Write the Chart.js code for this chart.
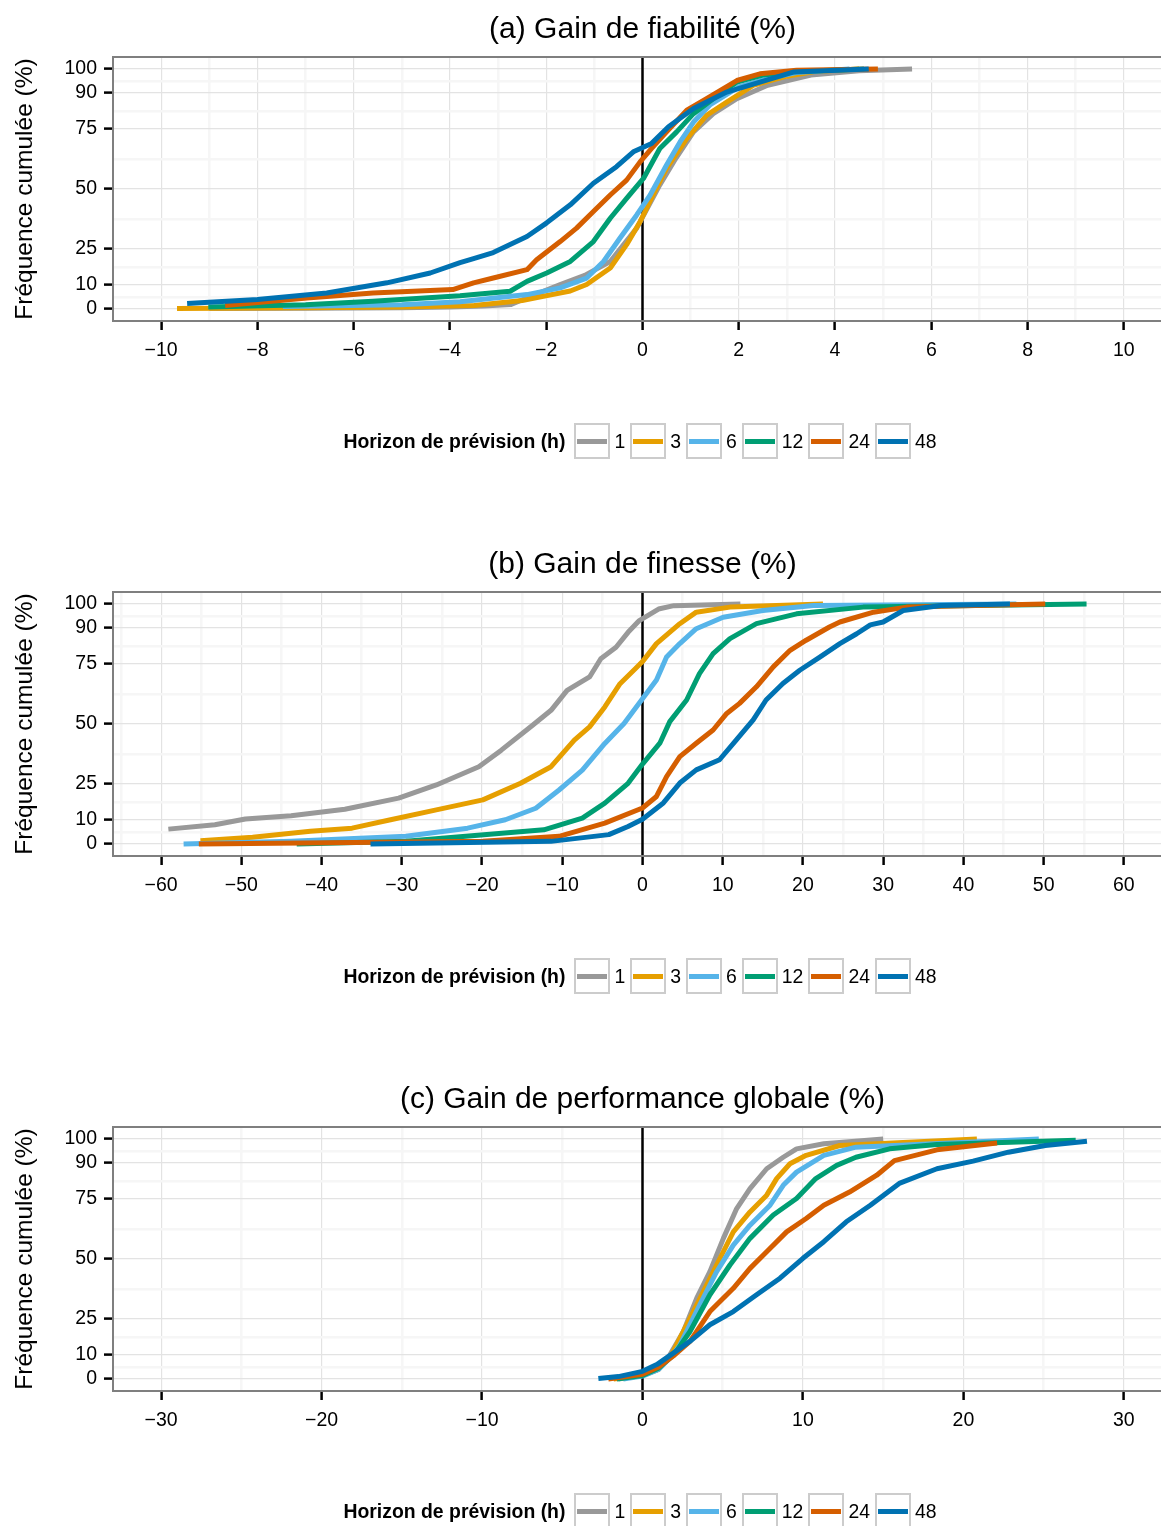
<!DOCTYPE html>
<html>
<head>
<meta charset="utf-8">
<script src="https://cdn.jsdelivr.net/npm/chart.js@4.4.1/dist/chart.umd.min.js"></script>
<style>
  body { margin: 0; overflow: hidden; background: #fff; font-family: "Liberation Sans", Arial, Helvetica, sans-serif; }
  .panel { position: absolute; left: 0; width: 1180px; height: 535px; }
  .panel canvas { position: absolute; left: 0; top: 0; }
  .legend { position: absolute; left: 113px; width: 1059px; top: 423px; height: 36px;
            display: flex; justify-content: center; align-items: center; font-size: 19.4px; color: #000; }
  .legend .ttl { font-weight: bold; margin-right: 9px; }
  .legend .key { width: 36px; height: 36px; box-sizing: border-box; border: 2px solid #cccccc;
                 display: flex; align-items: center; padding: 0 1px; }
  .legend .key span { display: block; width: 100%; height: 5px; }
  .legend .lab { margin: 0 5px 0 4px; }
</style>
</head>
<body>
<div class="panel" style="top:0"><canvas id="chartA" width="1180" height="535"></canvas><div class="legend" id="legA"></div></div>
<div class="panel" style="top:535px"><canvas id="chartB" width="1180" height="535"></canvas><div class="legend" id="legB"></div></div>
<div class="panel" style="top:1070px"><canvas id="chartC" width="1180" height="535"></canvas><div class="legend" id="legC"></div></div>

<script>
// horizons and colours
const horizons = ['1', '3', '6', '12', '24', '48'];
const lineColors = ['#999999', '#E69F00', '#56B4E9', '#009E73', '#D55E00', '#0072B2'];

// tick labels
const yTicks = [0, 10, 25, 50, 75, 90, 100];
const xTicksA = [-10, -8, -6, -4, -2, 0, 2, 4, 6, 8, 10];
const xTicksB = [-60, -50, -40, -30, -20, -10, 0, 10, 20, 30, 40, 50, 60];
const xTicksC = [-30, -20, -10, 0, 10, 20, 30];

// (a) gain de fiabilite : [x, cumulative %]
const fiab1 = [[-9.0,0.2],[-7,0.3],[-5,0.5],[-4,0.8],[-3.3,1.3],[-2.73,1.9],[-2.41,4.6],[-1.71,10.2],[-1.2,14],[-0.67,19.8],[-0.12,33.7],[0.36,51.7],[0.7,63],[1.06,73.8],[1.47,81.4],[1.96,87.6],[2.6,93.2],[3.5,97.5],[4.5,99.3],[5.6,100]];
const fiab3 = [[-9.67,0.2],[-7,0.5],[-5,0.8],[-3.5,1.5],[-2.5,3.5],[-2.06,5.3],[-1.5,7.5],[-1.16,10.2],[-0.67,17.1],[-0.33,26.8],[-0.05,36.4],[0.22,47.5],[0.5,58.6],[0.92,71],[1.33,80.7],[1.75,86.2],[2.3,93.2],[3.0,97],[3.6,99],[4.5,100]];
const fiab6 = [[-7.47,1.0],[-5,1.8],[-3.79,3.0],[-2.4,6.0],[-1.71,8.8],[-1.16,12.9],[-0.81,19.8],[-0.47,29.5],[-0.12,39.2],[0.16,47.5],[0.5,60],[0.78,69.6],[1.06,77.9],[1.4,85],[2.0,92.5],[2.6,96],[3.2,98.5],[4.3,100]];
const fiab12 = [[-9.02,0.8],[-7,1.8],[-5.6,3.2],[-3.79,5.5],[-2.75,7.4],[-2.4,11.5],[-1.99,15],[-1.5,19.8],[-1.02,28.1],[-0.67,37.8],[-0.33,46.1],[0.02,54.4],[0.36,66.9],[0.71,73.8],[1.06,81.4],[1.47,87.6],[1.96,94.5],[2.5,97.5],[3.2,99],[4.6,100]];
const fiab24 = [[-8.67,1.5],[-6.97,4.6],[-5.6,6.7],[-3.94,8.1],[-3.51,10.9],[-3.1,12.9],[-2.4,16.4],[-2.2,20.5],[-1.71,28.1],[-1.37,33.7],[-1.02,40.6],[-0.67,47.5],[-0.33,53.7],[-0.05,61.3],[0.19,66.9],[0.5,73.8],[0.92,82.8],[1.33,87.6],[1.96,95.2],[2.44,98],[3.2,99.5],[4.89,100]];
const fiab48 = [[-9.46,2.3],[-8,4],[-6.56,6.7],[-5.31,10.9],[-4.41,15],[-3.79,19.3],[-3.51,21],[-3.1,23.5],[-2.4,30.2],[-1.99,35.9],[-1.5,43.4],[-1.02,52.4],[-0.54,59.3],[-0.19,65.5],[0.19,69],[0.54,75.9],[1.06,83.5],[1.75,90.4],[2.44,94.5],[3.13,98.7],[4.7,100]];

// (b) gain de finesse
const fin1 = [[-59.1,6.2],[-53.3,8.0],[-49.5,10.4],[-43.8,11.8],[-37.1,14.5],[-30.4,19.1],[-25.7,24.6],[-20.4,32.2],[-17.6,39.1],[-13.7,49.5],[-11.4,55.7],[-9.4,64.0],[-6.6,69.6],[-5.2,77.2],[-3.3,82.0],[-1.8,88.2],[-0.4,93.1],[2.0,97.9],[3.9,99.3],[12.2,100]];
const fin3 = [[-55.1,1.4],[-48.6,2.8],[-41.4,5.3],[-36.2,6.6],[-31.4,10.1],[-25.7,14.2],[-19.9,18.4],[-15.2,25.3],[-11.4,32.2],[-8.5,43.3],[-6.6,48.8],[-4.7,57.1],[-2.8,66.8],[-0.9,73],[0,76],[1.74,83.5],[4.65,91.8],[6.7,96.6],[10.9,98.7],[22.5,100]];
const fin6 = [[-57.2,0],[-43.8,1.1],[-29.5,3.2],[-21.8,6.6],[-17.1,10.1],[-13.3,14.9],[-10.4,22.5],[-7.5,30.8],[-4.7,41.9],[-2.3,50.2],[0,60.5],[1.74,68.3],[3.0,77.9],[4.65,83.5],[6.7,89.7],[10.05,94.5],[15,97.3],[21.3,99.4],[46.6,100]];
const fin12 = [[-43.1,0],[-29.5,1.1],[-12.3,5.9],[-7.5,10.8],[-4.7,17],[-1.8,25.3],[0,33.3],[2.16,42],[3.4,51],[5.5,60],[7.1,71],[8.8,79.3],[10.9,85.6],[14.2,91.8],[19.2,95.9],[27.5,98.7],[55.35,100]];
const fin24 = [[-55.3,0],[-19.9,1.1],[-10.4,3.2],[-4.7,8.7],[0,15],[1.74,19.8],[3,28.1],[4.65,36.4],[6.7,42],[8.8,47.5],[10.5,54.4],[12.1,58.6],[14.2,65.5],[16.3,73.8],[18.4,80.7],[20.4,84.9],[23.3,90.4],[24.6,92.5],[28.8,96.6],[32.9,98.7],[50.2,100]];
const fin48 = [[-33.9,0],[-11.4,1.1],[-4.2,3.9],[-1.8,7.3],[0,10.3],[2.6,17.1],[4.65,25.4],[6.7,30.9],[9.6,35.1],[11.7,43.4],[13.8,51.7],[15.4,60],[17.5,66.9],[19.6,72.4],[22.1,77.9],[24.6,83.5],[26.7,87.6],[28.4,91.3],[30,92.5],[32.5,97.3],[37.2,99.4],[45.8,100]];

// (c) gain de performance globale
const glob1 = [[-1.5,0],[0,1.5],[0.93,3.9],[1.72,10.2],[2.55,19.8],[3.38,33.7],[4.2,44.7],[5.04,58.6],[5.87,71],[6.7,79.3],[7.74,87.6],[8.77,92.4],[9.6,95.9],[11.3,98],[15.0,100]];
const glob3 = [[-1.8,0],[0,1.5],[1.0,4],[1.8,10],[2.34,17.1],[3.38,30.9],[4.62,47.5],[5.66,61.3],[6.7,69.6],[7.74,76.6],[8.36,83.5],[9.19,89.7],[10.2,93.2],[12.3,97.3],[20.84,100]];
const glob6 = [[-1.2,0],[0,1.2],[1.0,4],[1.9,10],[2.34,14.3],[3.5,30],[4.62,44.7],[5.66,55.8],[6.7,64.1],[7.95,72.4],[8.77,80.7],[9.6,86.2],[11.3,93.2],[13.3,96.6],[24.7,100]];
const glob12 = [[-1.6,0],[0,1.5],[1.0,4.5],[2.0,10.5],[2.96,19.8],[4.2,35.1],[5.45,47.5],[6.7,58.6],[8.15,68.3],[9.6,75.2],[10.8,83.5],[12.1,89],[13.3,92.4],[15.4,95.9],[18.35,97.7],[27.0,99.5]];
const glob24 = [[-2.13,0],[0,2],[1.0,5],[2.0,10],[2.96,15.7],[4.2,28.1],[5.66,37.8],[6.7,46.1],[7.74,53],[8.98,61.3],[10.2,66.9],[11.3,72.4],[12.9,77.9],[14.6,84.9],[15.7,91],[18.35,95.5],[22.1,98.3]];
const glob48 = [[-2.75,0.2],[-1.5,1],[0,3.2],[0.89,6],[1.92,10.8],[2.96,15.7],[4.2,22.6],[5.66,28.1],[7.11,35.1],[8.57,42],[10,50.3],[11.3,57.2],[12.7,65.5],[14.2,72.4],[16.0,81.5],[18.35,87.6],[20.6,90.8],[22.8,94.5],[25.1,97.3],[27.7,99.1]];

Chart.defaults.font.family = '"Liberation Sans", Arial, Helvetica, sans-serif';
Chart.defaults.color = '#000';

// grey border round the panel, like ggplot theme_bw
const panelBorder = {
  id: 'panelBorder',
  afterDatasetsDraw(chart) {
    const { ctx, chartArea: a } = chart;
    ctx.save();
    ctx.strokeStyle = '#7f7f7f';
    ctx.lineWidth = 2;
    ctx.strokeRect(a.left, a.top, a.right - a.left, a.bottom - a.top);
    ctx.restore();
  }
};

function midpoints(ticks) {
  const out = [];
  for (let i = 0; i < ticks.length - 1; i++) out.push((ticks[i] + ticks[i + 1]) / 2);
  return out;
}

function fmt(v) {
  return v < 0 ? '\u2212' + Math.abs(v) : String(v);
}

function buildLegend(id) {
  const el = document.getElementById(id);
  let html = '<span class="ttl">Horizon de prévision (h)</span>';
  horizons.forEach((h, i) => {
    html += '<div class="key"><span style="background:' + lineColors[i] + '"></span></div><span class="lab">' + h + '</span>';
  });
  el.innerHTML = html;
}

function buildPanel(canvasId, legendId, titleText, xTicks, xLimit, series) {
  const step = xTicks[1] - xTicks[0];
  let xMinor = midpoints(xTicks);
  const lo = xTicks[0] - step / 2, hi = xTicks[xTicks.length - 1] + step / 2;
  if (lo > -xLimit) xMinor.unshift(lo);
  if (hi < xLimit) xMinor.push(hi);
  const yMinor = midpoints(yTicks);
  const xAll = xMinor.concat(xTicks).sort((a, b) => a - b);
  const yAll = yMinor.concat(yTicks).sort((a, b) => a - b);

  const datasets = series.map((pts, i) => ({
    label: horizons[i],
    data: pts.map(p => ({ x: p[0], y: p[1] })),
    borderColor: lineColors[i],
    borderWidth: 5,
    borderCapStyle: 'butt',
    borderJoinStyle: 'round',
    pointRadius: 0,
    tension: 0,
    fill: false,
    order: series.length - i
  }));
  // vertical reference line at zero
  datasets.push({
    label: 'zero',
    data: [{ x: 0, y: -5 }, { x: 0, y: 105 }],
    borderColor: '#000',
    borderWidth: 2.5,
    pointRadius: 0,
    fill: false,
    order: 20
  });

  new Chart(document.getElementById(canvasId), {
    type: 'line',
    data: { datasets },
    options: {
      responsive: false,
      animation: false,
      layout: { padding: { left: 0, right: 8, top: 0, bottom: 154 } },
      plugins: {
        legend: { display: false },
        tooltip: { enabled: false },
        title: {
          display: true,
          text: titleText,
          fullSize: false,
          color: '#000',
          font: { size: 30, weight: 'normal' },
          padding: { top: 12, bottom: 9 }
        }
      },
      scales: {
        x: {
          type: 'linear',
          min: -xLimit,
          max: xLimit,
          afterBuildTicks: s => { s.ticks = xAll.map(v => ({ value: v })); },
          afterFit: s => { s.height = 60; },
          border: { display: false },
          grid: {
            color: c => xTicks.includes(c.tick.value) ? '#e3e3e3' : '#f6f6f6',
            lineWidth: c => xTicks.includes(c.tick.value) ? 1.2 : 2.5,
            tickColor: c => xTicks.includes(c.tick.value) ? '#000' : 'rgba(0,0,0,0)',
            tickLength: 9,
            tickWidth: 2.5
          },
          ticks: {
            autoSkip: false,
            maxRotation: 0,
            padding: 9,
            color: '#000',
            font: { size: 19.5 },
            callback: v => xTicks.includes(v) ? fmt(v) : ''
          }
        },
        y: {
          type: 'linear',
          min: -5,
          max: 105,
          afterBuildTicks: s => { s.ticks = yAll.map(v => ({ value: v })); },
          afterFit: s => { s.width = 113; },
          border: { display: false },
          grid: {
            color: c => yTicks.includes(c.tick.value) ? '#e3e3e3' : '#f6f6f6',
            lineWidth: c => yTicks.includes(c.tick.value) ? 1.2 : 2.5,
            tickColor: c => yTicks.includes(c.tick.value) ? '#000' : 'rgba(0,0,0,0)',
            tickLength: 9,
            tickWidth: 2.5
          },
          ticks: {
            autoSkip: false,
            padding: 7,
            color: '#000',
            font: { size: 19.5 },
            callback: v => yTicks.includes(v) ? String(v) : ''
          },
          title: {
            display: true,
            text: 'Fréquence cumulée (%)',
            color: '#000',
            font: { size: 24.5 },
            padding: { top: 11, bottom: 0 }
          }
        }
      }
    },
    plugins: [panelBorder]
  });
  buildLegend(legendId);
}

buildPanel('chartA', 'legA', '(a) Gain de fiabilité (%)', xTicksA, 11,
  [fiab1, fiab3, fiab6, fiab12, fiab24, fiab48]);
buildPanel('chartB', 'legB', '(b) Gain de finesse (%)', xTicksB, 66,
  [fin1, fin3, fin6, fin12, fin24, fin48]);
buildPanel('chartC', 'legC', '(c) Gain de performance globale (%)', xTicksC, 33,
  [glob1, glob3, glob6, glob12, glob24, glob48]);
</script>
</body>
</html>
